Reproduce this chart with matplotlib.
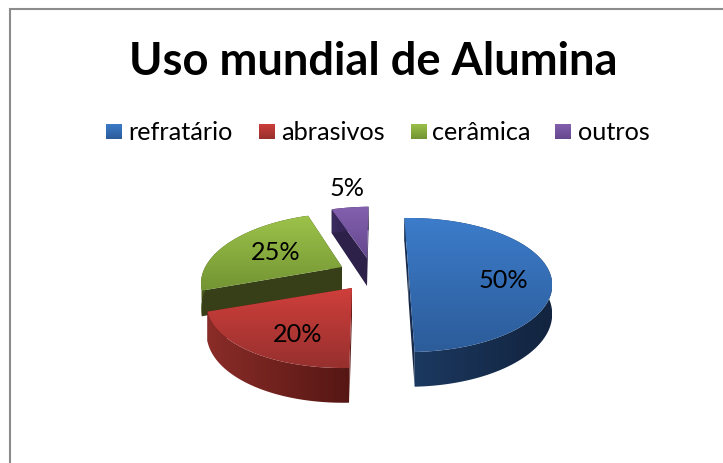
import numpy as np
import matplotlib
matplotlib.use('Agg')
import matplotlib.pyplot as plt
from matplotlib.colors import LinearSegmentedColormap
from matplotlib.patches import Polygon

plt.rcParams['font.family'] = ['Lato', 'DejaVu Sans']

# data
title = 'Uso mundial de Alumina'
categories = ['refratário', 'abrasivos', 'cerâmica', 'outros']
values = [50, 20, 25, 5]
labels = ['50%', '20%', '25%', '5%']

# look of the slices, light and dark end of each gradient
top_light = ['#3c7cca', '#cf3f3b', '#9cc24a', '#8460ae']
top_dark = ['#2c5c9a', '#97302e', '#739433', '#65498f']
wall_light = ['#1c3a62', '#8a2c28', '#4a5a1e', '#3a2a5e']
wall_dark = ['#12243f', '#561714', '#35401a', '#2a1d45']
face_color = ['#16294a', '#5c1916', '#363f17', '#2d2049']

# where each exploded slice has its tip, in pixels
apex_x = [408.5, 352, 342, 367]
apex_y = [272, 288, 267, 258]
label_x = [503, 298, 276, 347]
label_y = [280.5, 334, 252, 189]

# small per slice corrections for the perspective of the original
slice_shear = [0, -0.11, -0.11, -0.11]
slice_sx = [1, 1, 0.97, 1]
slice_sy = [1, 1, 1, 0.95]
slice_depth = [28, 28, 24, 28]

legend_swatch_x = [106, 259, 411, 555]
legend_text_x = [128, 281, 432, 578]

R_x = 141
R_y = 64.5
persp = 0.194
start_angle = 92


def project(i, t):
    w = 1 + persp * np.sin(t)
    dy = -R_y * slice_sy[i] * np.sin(t) / w
    dx = R_x * slice_sx[i] * np.cos(t) / w + slice_shear[i] * dy
    return apex_x[i] + dx, apex_y[i] + dy, slice_depth[i] / w


def grad(ax, poly, c1, c2, vertical=True, z=1):
    # gradient image clipped to a polygon
    cmap = LinearSegmentedColormap.from_list('g', [c1, c2])
    x0, y0 = poly.min(axis=0)
    x1, y1 = poly.max(axis=0)
    g = np.linspace(0, 1, 64)
    g = g.reshape(-1, 1) if vertical else g.reshape(1, -1)
    im = ax.imshow(g, cmap=cmap, extent=[x0, x1, y1, y0], aspect='auto',
                   zorder=z, interpolation='bilinear')
    patch = Polygon(poly, closed=True, transform=ax.transData, fc='none', ec='none')
    ax.add_patch(patch)
    im.set_clip_path(patch)


fig = plt.figure(figsize=(7.23, 4.63), dpi=100)
ax = fig.add_axes([0, 0, 1, 1])
ax.axis('off')

# outer frame, only top and left are in the crop
ax.plot([10, 10, 723], [463, 9, 9], color='#8c8c8c', lw=1.5, zorder=1,
        solid_joinstyle='miter')

ax.text(373, 62, title, ha='center', va='center', fontsize=32.6,
        fontweight='bold', color='black', zorder=20)

# slices, clockwise from the top
total = float(sum(values))
ends = np.cumsum(values) / total
starts = np.concatenate([[0], ends[:-1]])

z = 2
for i in [3, 2, 1, 0]:
    t1 = np.radians(start_angle - 360 * starts[i])
    t2 = np.radians(start_angle - 360 * ends[i])
    t = np.linspace(t1, t2, 120)
    x, y, d = project(i, t)
    ax_, ay_ = apex_x[i], apex_y[i]

    # the two cut faces
    for k in [0, -1]:
        face = np.array([[ax_, ay_], [x[k], y[k]], [x[k], y[k] + d[k]],
                         [ax_, ay_ + slice_depth[i]]])
        ax.add_patch(Polygon(face, closed=True, fc=face_color[i], ec='none', zorder=z))
    z += 1

    # curved wall
    wall = np.vstack([np.column_stack([x, y]),
                      np.column_stack([x, y + d])[::-1]])
    grad(ax, wall, wall_light[i], wall_dark[i], vertical=False, z=z)
    z += 1

    # top
    top = np.vstack([[ax_, ay_], np.column_stack([x, y])])
    grad(ax, top, top_light[i], top_dark[i], z=z)
    z += 1

# legend
for i in range(len(categories)):
    sx = legend_swatch_x[i]
    sw = np.array([[sx, 124], [sx + 16, 124], [sx + 16, 139.5], [sx, 139.5]])
    grad(ax, sw, top_light[i], top_dark[i], z=20)
    ax.text(legend_text_x[i], 132, categories[i], ha='left', va='center',
            fontsize=18.2, color='black', zorder=21)

# percent labels
for i in range(len(labels)):
    ax.text(label_x[i], label_y[i], labels[i], ha='center', va='center',
            fontsize=18.2, color='black', zorder=21)

ax.set_xlim(0, 723)
ax.set_ylim(463, 0)
fig.savefig('out.png', dpi=100, facecolor='white')
